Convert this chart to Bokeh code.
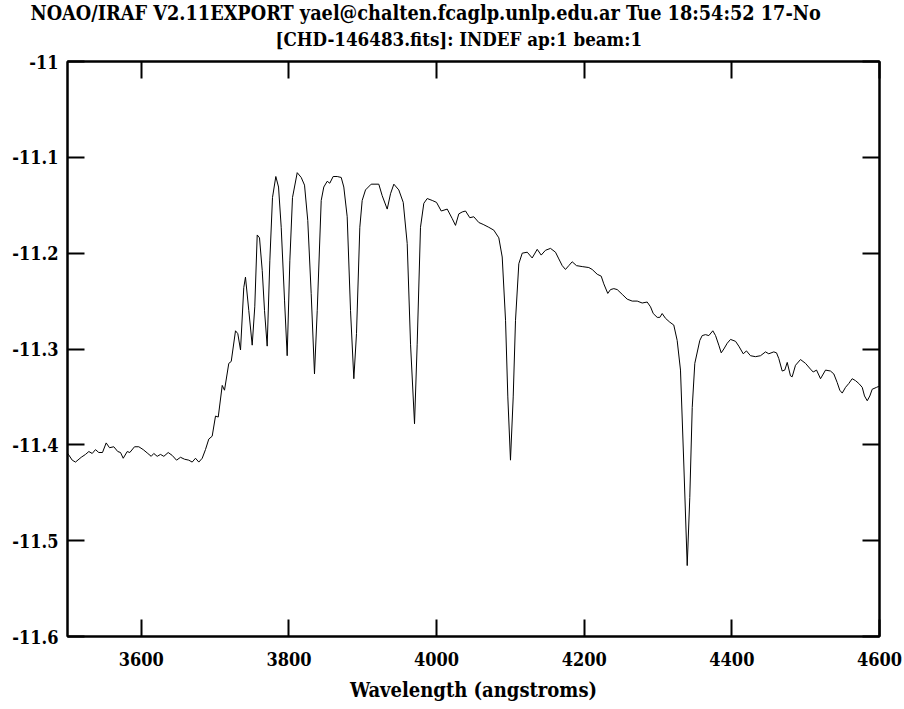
from bokeh.plotting import figure
from bokeh.models import LinearAxis, FixedTicker, Title, Range1d
from bokeh.embed import file_html
from bokeh.resources import INLINE

wavelength = [
    3500.4, 3506.4, 3510.8, 3518.6, 3524.4, 3528.9, 3533.5, 3537.9, 3542.4, 3547.4,
    3552.4, 3556.9, 3562.7, 3568.1, 3571.8, 3575.5, 3580.9, 3584.4, 3590.8, 3596.6,
    3602.6, 3608.8, 3613.4, 3616.9, 3621.5, 3626.0, 3630.5, 3636.4, 3641.8, 3647.7,
    3653.1, 3658.5, 3664.3, 3668.9, 3673.4, 3677.9, 3682.5, 3686.9, 3691.4, 3696.0,
    3700.5, 3704.2, 3709.6, 3712.7, 3718.5, 3721.8, 3727.6, 3730.7, 3734.4, 3738.8,
    3741.1, 3745.6, 3750.2, 3753.7, 3757.0, 3760.1, 3763.8, 3766.9, 3770.5, 3774.1,
    3777.7, 3782.2, 3785.9, 3789.5, 3794.0, 3797.6, 3801.2, 3804.8, 3811.2, 3816.6,
    3821.1, 3825.5, 3830.1, 3834.6, 3838.3, 3843.7, 3847.2, 3851.8, 3855.3, 3859.9,
    3865.4, 3870.8, 3874.3, 3878.9, 3883.4, 3887.9, 3891.5, 3896.0, 3899.2, 3903.7,
    3911.4, 3921.7, 3926.3, 3933.1, 3937.6, 3942.1, 3948.8, 3954.8, 3960.2, 3964.7,
    3970.1, 3973.7, 3978.2, 3982.7, 3987.3, 3994.1, 3999.9, 4006.3, 4014.4, 4021.2,
    4025.6, 4030.1, 4034.7, 4039.2, 4045.0, 4050.4, 4057.2, 4063.1, 4070.7, 4077.5,
    4084.3, 4088.9, 4093.4, 4096.5, 4100.1, 4103.8, 4106.9, 4111.4, 4116.0, 4122.8,
    4129.5, 4136.3, 4141.7, 4147.5, 4154.3, 4161.1, 4165.6, 4170.2, 4174.6, 4179.1,
    4183.7, 4189.5, 4197.3, 4206.2, 4210.8, 4217.6, 4223.0, 4226.5, 4231.9, 4235.6,
    4240.1, 4244.7, 4251.5, 4258.2, 4265.0, 4271.8, 4278.5, 4285.3, 4289.8, 4293.5,
    4298.9, 4302.4, 4305.6, 4310.1, 4315.9, 4321.3, 4325.9, 4330.4, 4334.9, 4339.5,
    4343.0, 4346.3, 4349.8, 4356.6, 4359.8, 4364.3, 4368.8, 4374.2, 4377.9, 4382.3,
    4385.6, 4389.1, 4393.7, 4398.2, 4405.0, 4409.4, 4415.4, 4419.8, 4425.2, 4432.0,
    4438.8, 4445.6, 4450.0, 4456.8, 4460.5, 4463.6, 4468.2, 4471.7, 4475.0, 4479.4,
    4481.7, 4486.2, 4493.0, 4499.8, 4506.5, 4510.2, 4514.7, 4520.1, 4526.9, 4533.6,
    4538.1, 4542.7, 4546.2, 4549.5, 4554.0, 4558.4, 4563.0, 4567.5, 4572.0, 4576.6,
    4579.7, 4583.4, 4586.9, 4590.1, 4596.0, 4599.1,
]

flux = [
    -11.409, -11.416, -11.418, -11.413, -11.410, -11.407, -11.409, -11.405, -11.408, -11.408,
    -11.398, -11.403, -11.402, -11.407, -11.408, -11.414, -11.407, -11.408, -11.402, -11.402,
    -11.405, -11.409, -11.412, -11.409, -11.412, -11.410, -11.412, -11.408, -11.411, -11.416,
    -11.413, -11.415, -11.416, -11.418, -11.414, -11.418, -11.414, -11.405, -11.394, -11.391,
    -11.370, -11.371, -11.338, -11.343, -11.315, -11.313, -11.281, -11.284, -11.301, -11.236,
    -11.225, -11.260, -11.296, -11.256, -11.181, -11.184, -11.218, -11.260, -11.297, -11.208,
    -11.142, -11.120, -11.131, -11.173, -11.249, -11.307, -11.208, -11.142, -11.116, -11.121,
    -11.129, -11.166, -11.242, -11.326, -11.260, -11.145, -11.131, -11.125, -11.127, -11.120,
    -11.120, -11.121, -11.131, -11.162, -11.260, -11.331, -11.284, -11.173, -11.145, -11.134,
    -11.128, -11.128, -11.140, -11.154, -11.138, -11.128, -11.134, -11.147, -11.190, -11.295,
    -11.378, -11.295, -11.173, -11.148, -11.143, -11.145, -11.147, -11.156, -11.154, -11.164,
    -11.171, -11.159, -11.157, -11.156, -11.163, -11.162, -11.168, -11.170, -11.173, -11.176,
    -11.184, -11.204, -11.270, -11.350, -11.416, -11.350, -11.270, -11.211, -11.200, -11.199,
    -11.205, -11.196, -11.202, -11.197, -11.195, -11.199, -11.206, -11.213, -11.217, -11.213,
    -11.209, -11.213, -11.214, -11.215, -11.217, -11.222, -11.224, -11.232, -11.242, -11.238,
    -11.237, -11.238, -11.243, -11.248, -11.250, -11.250, -11.252, -11.251, -11.256, -11.263,
    -11.267, -11.267, -11.263, -11.268, -11.272, -11.275, -11.291, -11.322, -11.420, -11.526,
    -11.455, -11.361, -11.315, -11.291, -11.286, -11.285, -11.286, -11.281, -11.286, -11.296,
    -11.304, -11.300, -11.294, -11.290, -11.292, -11.297, -11.305, -11.302, -11.307, -11.308,
    -11.307, -11.303, -11.305, -11.303, -11.304, -11.310, -11.323, -11.322, -11.314, -11.328,
    -11.329, -11.317, -11.311, -11.315, -11.321, -11.324, -11.322, -11.331, -11.322, -11.323,
    -11.326, -11.335, -11.343, -11.346, -11.340, -11.336, -11.331, -11.333, -11.336, -11.340,
    -11.349, -11.354, -11.349, -11.342, -11.340, -11.339,
]

x_ticks = [3600, 3800, 4000, 4200, 4400, 4600]
y_ticks = [-11.6, -11.5, -11.4, -11.3, -11.2, -11.1, -11.0]
y_tick_labels = {-11.6: "-11.6", -11.5: "-11.5", -11.4: "-11.4", -11.3: "-11.3",
                 -11.2: "-11.2", -11.1: "-11.1", -11.0: "-11"}
title_line1 = "NOAO/IRAF V2.11EXPORT yael@chalten.fcaglp.unlp.edu.ar Tue 18:54:52 17-No"
title_line2 = "[CHD-146483.fits]:  INDEF ap:1 beam:1"
x_label = "Wavelength (angstroms)"

FONT = "DejaVu Serif Condensed"

p = figure(width=904, height=709, output_backend="svg", toolbar_location=None,
           x_range=Range1d(3500, 4600), y_range=Range1d(-11.6, -11.0),
           min_border_left=67, min_border_right=25, min_border_top=61,
           min_border_bottom=73, x_axis_type=None, y_axis_type=None)
p.grid.visible = False
p.background_fill_color = "white"
p.border_fill_color = "white"
p.outline_line_color = "black"
p.outline_line_width = 2

def style_axis(ax, labels=True):
    ax.major_tick_in = 17
    ax.major_tick_out = 0
    ax.major_tick_line_width = 2
    ax.major_tick_line_color = "black"
    ax.minor_tick_line_color = None
    ax.axis_line_color = "black"
    ax.axis_line_width = 2
    ax.major_label_text_font = FONT
    ax.major_label_text_font_style = "bold"
    if labels:
        ax.major_label_text_font_size = "18px"
        ax.major_label_text_color = "black"
    else:
        ax.major_label_text_font_size = "0px"
        ax.major_label_text_color = None
        ax.major_label_standoff = 0

xb = LinearAxis(ticker=FixedTicker(ticks=x_ticks))
style_axis(xb)
xb.major_label_standoff = 15
xb.axis_label = x_label
xb.axis_label_text_font = FONT
xb.axis_label_text_font_style = "bold"
xb.axis_label_text_font_size = "20px"
xb.axis_label_text_color = "black"
xb.axis_label_standoff = 9
p.add_layout(xb, "below")

yl = LinearAxis(ticker=FixedTicker(ticks=y_ticks))
style_axis(yl)
yl.major_label_standoff = 9
yl.major_label_overrides = y_tick_labels
p.add_layout(yl, "left")

xa = LinearAxis(ticker=FixedTicker(ticks=x_ticks))
style_axis(xa, labels=False)
p.add_layout(xa, "above")

# invisible spacer between the frame and the title lines
spacer = LinearAxis(ticker=FixedTicker(ticks=x_ticks))
style_axis(spacer, labels=False)
spacer.major_tick_in = 0
spacer.major_tick_out = 12
spacer.major_tick_line_color = None
spacer.axis_line_color = None
p.add_layout(spacer, "above")

yr = LinearAxis(ticker=FixedTicker(ticks=y_ticks))
style_axis(yr, labels=False)
p.add_layout(yr, "right")

t2 = Title(text=title_line2, align="left", text_font=FONT, text_font_style="bold",
           text_font_size="18.6px", text_color="black", standoff=0, offset=208)
p.add_layout(t2, "above")
t1 = Title(text=title_line1, align="left", vertical_align="top", text_font=FONT,
           text_font_style="bold", text_font_size="19.7px", text_color="black",
           standoff=0, offset=-37)
p.add_layout(t1, "above")

p.line(wavelength, flux, line_color="black", line_width=1)

open("out.html", "w").write(file_html(p, INLINE))
